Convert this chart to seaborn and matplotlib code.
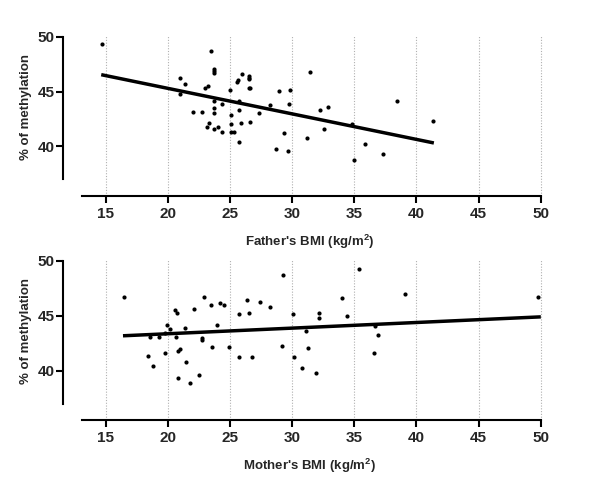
import matplotlib
matplotlib.use("Agg")
import matplotlib.pyplot as plt
import seaborn as sns
import pandas as pd

# ---- data ----
father_bmi = [14.7, 23.5, 23.7, 23.7, 23.7, 20.95, 21.4, 20.95, 23.0, 23.2,
              25.0, 25.95, 25.65, 25.55, 26.55, 26.55, 26.55, 26.5, 26.6, 23.7,
              24.4, 23.7, 23.7, 22.0, 22.75, 25.7, 25.75, 25.1, 27.35, 28.2,
              28.95, 29.85, 29.75, 23.3, 23.15, 23.7, 24.05, 24.4, 25.1, 25.1,
              25.3, 25.9, 26.6, 25.75, 28.7, 29.65, 29.35, 31.2, 31.45, 32.25,
              32.9, 32.6, 34.85, 35.0, 35.9, 37.3, 38.45, 41.35]
father_meth = [49.3, 48.7, 47.05, 46.9, 46.7, 46.2, 45.7, 44.8, 45.3, 45.5,
               45.15, 46.6, 46.05, 45.9, 46.4, 46.25, 46.1, 45.3, 45.3, 44.15,
               43.9, 43.5, 43.05, 43.1, 43.1, 44.15, 43.3, 42.85, 43.05, 43.75,
               45.05, 45.15, 43.9, 42.1, 41.8, 41.6, 41.8, 41.35, 42.05, 41.3,
               41.3, 42.15, 42.2, 40.4, 39.8, 39.6, 41.2, 40.8, 46.75, 43.35,
               43.6, 41.55, 42.05, 38.8, 40.25, 39.3, 44.1, 42.35]
# fitted regression line as printed (end points)
father_fit_bmi = [14.65, 41.4]
father_fit_meth = [46.53, 40.32]

mother_bmi = [16.45, 18.55, 18.45, 18.85, 19.3, 19.75, 19.9, 20.15, 19.8, 20.65,
              20.55, 20.75, 21.4, 21.0, 20.85, 21.45, 20.85, 21.75, 22.1, 22.9,
              22.75, 22.75, 22.55, 23.5, 24.0, 23.55, 24.2, 24.5, 24.95, 25.75,
              25.7, 26.35, 26.55, 26.8, 27.4, 28.25, 29.25, 29.2, 30.05, 30.15,
              31.15, 31.3, 30.8, 31.9, 32.15, 32.2, 34.05, 34.4, 35.35, 36.65,
              36.9, 36.6, 39.1, 49.75]
mother_meth = [46.65, 43.05, 41.3, 40.4, 43.05, 43.45, 44.1, 43.8, 41.6, 43.05,
               45.5, 45.2, 43.85, 42.0, 41.75, 40.8, 39.3, 38.85, 45.6, 46.65,
               42.95, 42.8, 39.6, 45.95, 44.15, 42.15, 46.1, 46.0, 42.1, 45.1,
               41.25, 46.4, 45.2, 41.2, 46.2, 45.8, 48.65, 42.2, 45.1, 41.25,
               43.6, 42.05, 40.25, 39.8, 45.2, 44.75, 46.55, 45.0, 49.25, 44.05,
               43.25, 41.55, 46.95, 46.65]
mother_fit_bmi = [16.4, 50.0]
mother_fit_meth = [43.16, 44.88]

x_ticks = [15, 20, 25, 30, 35, 40, 45, 50]
y_ticks = [40, 45, 50]

father_df = pd.DataFrame({"bmi": father_bmi, "meth": father_meth})
mother_df = pd.DataFrame({"bmi": mother_bmi, "meth": mother_meth})
father_fit = pd.DataFrame({"bmi": father_fit_bmi, "meth": father_fit_meth})
mother_fit = pd.DataFrame({"bmi": mother_fit_bmi, "meth": mother_fit_meth})

sns.set_style("white")
plt.rcParams["font.family"] = ["Liberation Sans", "DejaVu Sans"]
plt.rcParams["font.weight"] = "bold"
plt.rcParams["mathtext.fontset"] = "custom"
plt.rcParams["mathtext.rm"] = "Liberation Sans:bold"
plt.rcParams["mathtext.bf"] = "Liberation Sans:bold"

fig = plt.figure(figsize=(6, 4.88), dpi=100)
ax_top = fig.add_axes([0.1055, 0.5984, 0.8, 0.3279])
ax_bot = fig.add_axes([0.1055, 0.1393, 0.8, 0.3279])


def draw_panel(ax, data, fit, xlabel):
    for t in x_ticks:
        ax.axvline(t, color="#b0b0b0", lw=0.8, ls=(0, (1, 1.5)), zorder=0)
    sns.scatterplot(data=data, x="bmi", y="meth", ax=ax, s=9,
                    color="black", linewidth=0, zorder=3)
    sns.lineplot(data=fit, x="bmi", y="meth", ax=ax, color="black",
                 lw=2.5, zorder=4, solid_capstyle="butt")
    ax.set_xlim(11.6, 50.2)
    ax.set_ylim(35.5, 50.05)
    ax.set_xticks(x_ticks)
    ax.set_yticks(y_ticks)
    ax.tick_params(axis="both", direction="out", length=5, width=1.5,
                   labelsize=11, color="black", bottom=True, left=True)
    ax.tick_params(axis="x", pad=3)
    ax.tick_params(axis="y", pad=1)
    sns.despine(ax=ax)
    for side in ("left", "bottom"):
        ax.spines[side].set_linewidth(1.5)
        ax.spines[side].set_color("black")
    ax.spines["left"].set_bounds(37, 50)
    ax.spines["bottom"].set_bounds(13.1, 50)
    ax.set_xlabel(xlabel, fontsize=9.5, fontweight="bold")
    ax.set_ylabel("% of methylation", fontsize=9.5, fontweight="bold")
    ax.xaxis.set_label_coords(0.514, -0.23)
    ax.yaxis.set_label_coords(-0.065, 0.556)


draw_panel(ax_top, father_df, father_fit, r"Father's BMI (kg/m$^{2}$)")
draw_panel(ax_bot, mother_df, mother_fit, r"Mother's BMI (kg/m$^{2}$)")

fig.savefig("out.png", dpi=100)
